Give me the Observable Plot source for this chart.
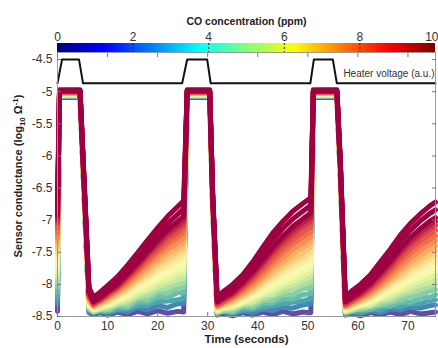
<!DOCTYPE html>
<html><head><meta charset="utf-8">
<script src="https://cdn.jsdelivr.net/npm/d3@7"></script>
<script src="https://cdn.jsdelivr.net/npm/@observablehq/plot@0.6"></script>
<style>
body{margin:0;background:#fff;font-family:"Liberation Sans",Arial,sans-serif;}
#chart svg{display:block}
</style></head><body><div id="chart"></div>
<script>
// ---- data ----
const time = [0, 0.4, 4.5, 5.3, 6.3, 7.2, 8.5, 10, 12, 14, 16, 18, 20, 22, 24, 25.2,
  25.9, 30.4, 31.0, 31.9, 33, 35, 37, 39, 41, 43, 45, 47, 49, 50.6,
  51.1, 55.8, 56.5, 57.5, 58.8, 60.5, 62.5, 64.5, 66.5, 68.5, 70.5, 72.5, 74.5, 75.5];

const lineConc = [0, 1, 1.5, 2, 2.5, 3, 3.5, 4, 4.5, 5, 5.5, 6, 6.5, 7, 7.5, 8, 8.5, 9, 9.5, 10, 10, 10];

const conductance = [
  // 0
  [-8.42, -5.09, -5.09, -6.6, -8.44, -8.47, -8.44, -8.48, -8.43, -8.47, -8.42, -8.46, -8.41, -8.45, -8.42, -8.43,
   -5.09, -5.09, -6.84, -8.48, -8.45, -8.49, -8.44, -8.48, -8.43, -8.47, -8.42, -8.46, -8.43, -8.44,
   -5.09, -5.09, -6.34, -8.48, -8.45, -8.49, -8.44, -8.47, -8.43, -8.47, -8.42, -8.46, -8.44, -8.43],
  // 1
  [-8.3, -5.08, -5.08, -6.58, -8.42, -8.45, -8.42, -8.46, -8.4, -8.43, -8.36, -8.4, -8.33, -8.36, -8.3, -8.3,
   -5.08, -5.08, -6.82, -8.46, -8.43, -8.47, -8.41, -8.44, -8.38, -8.41, -8.35, -8.37, -8.32, -8.3,
   -5.08, -5.08, -6.32, -8.46, -8.44, -8.45, -8.41, -8.44, -8.38, -8.4, -8.35, -8.37, -8.33, -8.32],
  // 1.5
  [-8.22, -5.075, -5.075, -6.57, -8.4, -8.44, -8.4, -8.42, -8.39, -8.38, -8.33, -8.32, -8.27, -8.26, -8.24, -8.22,
   -5.075, -5.075, -6.81, -8.45, -8.41, -8.44, -8.4, -8.39, -8.36, -8.33, -8.3, -8.28, -8.26, -8.22,
   -5.075, -5.075, -6.31, -8.45, -8.42, -8.44, -8.38, -8.4, -8.33, -8.35, -8.3, -8.3, -8.25, -8.24],
  // 2
  [-8.13, -5.07, -5.07, -6.56, -8.39, -8.43, -8.41, -8.42, -8.35, -8.36, -8.27, -8.28, -8.19, -8.2, -8.13, -8.13,
   -5.07, -5.07, -6.8, -8.44, -8.42, -8.43, -8.36, -8.37, -8.3, -8.29, -8.22, -8.23, -8.16, -8.14,
   -5.07, -5.07, -6.3, -8.44, -8.42, -8.4, -8.39, -8.33, -8.34, -8.27, -8.28, -8.21, -8.2, -8.16],
  // 2.5
  [-8.05, -5.065, -5.065, -6.55, -8.38, -8.43, -8.38, -8.41, -8.32, -8.34, -8.22, -8.24, -8.12, -8.14, -8.05, -8.05,
   -5.065, -5.065, -6.79, -8.44, -8.4, -8.42, -8.33, -8.35, -8.25, -8.25, -8.16, -8.16, -8.07, -8.05,
   -5.065, -5.065, -6.29, -8.44, -8.4, -8.39, -8.35, -8.32, -8.28, -8.24, -8.19, -8.16, -8.1, -8.08],
  // 3
  [-7.97, -5.06, -5.06, -6.54, -8.36, -8.42, -8.39, -8.38, -8.31, -8.29, -8.2, -8.17, -8.08, -8.06, -7.99, -7.97,
   -5.06, -5.06, -6.78, -8.43, -8.4, -8.38, -8.32, -8.3, -8.23, -8.18, -8.12, -8.07, -8.01, -7.96,
   -5.06, -5.06, -6.28, -8.43, -8.4, -8.36, -8.34, -8.28, -8.25, -8.18, -8.13, -8.08, -8.03, -8.0],
  // 3.5
  [-7.9, -5.055, -5.055, -6.53, -8.345, -8.41, -8.38, -8.35, -8.3, -8.25, -8.17, -8.11, -8.04, -7.98, -7.92, -7.9,
   -5.055, -5.055, -6.77, -8.42, -8.38, -8.37, -8.3, -8.28, -8.18, -8.15, -8.05, -8.02, -7.93, -7.88,
   -5.055, -5.055, -6.27, -8.42, -8.39, -8.34, -8.33, -8.24, -8.22, -8.12, -8.09, -8.0, -7.97, -7.93],
  // 4
  [-7.82, -5.05, -5.05, -6.52, -8.33, -8.4, -8.36, -8.34, -8.27, -8.23, -8.12, -8.08, -7.97, -7.93, -7.84, -7.82,
   -5.05, -5.05, -6.76, -8.41, -8.37, -8.35, -8.29, -8.24, -8.16, -8.1, -8.01, -7.95, -7.87, -7.8,
   -5.05, -5.05, -6.26, -8.41, -8.37, -8.33, -8.3, -8.22, -8.17, -8.09, -8.02, -7.95, -7.89, -7.85],
  // 4.5
  [-7.75, -5.045, -5.045, -6.51, -8.32, -8.39, -8.35, -8.31, -8.25, -8.18, -8.09, -8.01, -7.93, -7.85, -7.78, -7.75,
   -5.045, -5.045, -6.75, -8.4, -8.36, -8.32, -8.28, -8.19, -8.13, -8.04, -7.96, -7.88, -7.81, -7.73,
   -5.045, -5.045, -6.25, -8.4, -8.36, -8.32, -8.27, -8.2, -8.12, -8.05, -7.95, -7.89, -7.81, -7.78],
  // 5
  [-7.67, -5.04, -5.04, -6.5, -8.3, -8.38, -8.33, -8.3, -8.22, -8.16, -8.04, -7.97, -7.86, -7.79, -7.7, -7.67,
   -5.04, -5.04, -6.74, -8.39, -8.35, -8.31, -8.25, -8.17, -8.09, -8.0, -7.9, -7.82, -7.73, -7.66,
   -5.04, -5.04, -6.24, -8.39, -8.35, -8.3, -8.25, -8.16, -8.09, -7.99, -7.9, -7.82, -7.74, -7.71],
  // 5.5
  [-7.6, -5.035, -5.035, -6.49, -8.29, -8.37, -8.32, -8.28, -8.2, -8.12, -8.0, -7.92, -7.8, -7.73, -7.63, -7.6,
   -5.035, -5.035, -6.73, -8.38, -8.34, -8.3, -8.22, -8.14, -8.05, -7.94, -7.84, -7.75, -7.67, -7.58,
   -5.035, -5.035, -6.23, -8.38, -8.34, -8.29, -8.22, -8.13, -8.05, -7.94, -7.85, -7.75, -7.67, -7.64],
  // 6
  [-7.52, -5.03, -5.03, -6.48, -8.27, -8.36, -8.31, -8.27, -8.17, -8.09, -7.96, -7.87, -7.75, -7.66, -7.56, -7.52,
   -5.03, -5.03, -6.72, -8.37, -8.33, -8.28, -8.2, -8.11, -8.0, -7.89, -7.78, -7.68, -7.6, -7.5,
   -5.03, -5.03, -6.22, -8.37, -8.33, -8.27, -8.2, -8.1, -8.0, -7.9, -7.79, -7.69, -7.6, -7.56],
  // 6.5
  [-7.44, -5.025, -5.025, -6.47, -8.26, -8.35, -8.3, -8.25, -8.15, -8.06, -7.93, -7.82, -7.69, -7.59, -7.49, -7.44,
   -5.025, -5.025, -6.71, -8.36, -8.32, -8.26, -8.18, -8.08, -7.96, -7.83, -7.72, -7.61, -7.52, -7.42,
   -5.025, -5.025, -6.21, -8.36, -8.32, -8.26, -8.18, -8.07, -7.96, -7.85, -7.73, -7.62, -7.53, -7.48],
  // 7
  [-7.36, -5.02, -5.02, -6.46, -8.24, -8.34, -8.29, -8.22, -8.13, -8.02, -7.89, -7.76, -7.63, -7.52, -7.42, -7.36,
   -5.02, -5.02, -6.7, -8.35, -8.31, -8.24, -8.15, -8.04, -7.91, -7.77, -7.65, -7.53, -7.43, -7.34,
   -5.02, -5.02, -6.2, -8.35, -8.3, -8.24, -8.15, -8.04, -7.92, -7.79, -7.66, -7.55, -7.45, -7.4],
  // 7.5
  [-7.28, -5.015, -5.015, -6.45, -8.22, -8.33, -8.28, -8.2, -8.1, -7.99, -7.85, -7.71, -7.57, -7.45, -7.35, -7.28,
   -5.015, -5.015, -6.69, -8.34, -8.3, -8.22, -8.12, -8.0, -7.86, -7.71, -7.58, -7.45, -7.35, -7.26,
   -5.015, -5.015, -6.19, -8.34, -8.29, -8.22, -8.13, -8.0, -7.87, -7.73, -7.59, -7.47, -7.37, -7.32],
  // 8
  [-7.2, -5.01, -5.01, -6.44, -8.2, -8.32, -8.26, -8.19, -8.08, -7.95, -7.8, -7.66, -7.51, -7.38, -7.27, -7.2,
   -5.01, -5.01, -6.68, -8.33, -8.28, -8.2, -8.09, -7.96, -7.81, -7.65, -7.5, -7.37, -7.26, -7.18,
   -5.01, -5.01, -6.18, -8.33, -8.27, -8.2, -8.1, -7.97, -7.82, -7.66, -7.52, -7.39, -7.29, -7.24],
  // 8.5
  [-7.12, -5.005, -5.005, -6.43, -8.18, -8.31, -8.25, -8.17, -8.06, -7.92, -7.77, -7.61, -7.46, -7.32, -7.2, -7.12,
   -5.005, -5.005, -6.67, -8.32, -8.27, -8.18, -8.06, -7.92, -7.76, -7.59, -7.43, -7.3, -7.18, -7.1,
   -5.005, -5.005, -6.17, -8.32, -8.26, -8.18, -8.07, -7.93, -7.77, -7.6, -7.45, -7.32, -7.21, -7.16],
  // 9
  [-7.05, -5.0, -5.0, -6.42, -8.16, -8.3, -8.24, -8.15, -8.04, -7.89, -7.73, -7.56, -7.4, -7.25, -7.13, -7.05,
   -5.0, -5.0, -6.66, -8.3, -8.25, -8.16, -8.03, -7.88, -7.7, -7.52, -7.36, -7.22, -7.1, -7.02,
   -5.0, -5.0, -6.16, -8.3, -8.24, -8.16, -8.04, -7.89, -7.72, -7.54, -7.38, -7.24, -7.13, -7.08],
  // 9.5
  [-7.0, -4.995, -4.995, -6.41, -8.14, -8.28, -8.22, -8.13, -8.02, -7.86, -7.7, -7.52, -7.36, -7.2, -7.08, -7.0,
   -4.995, -4.995, -6.65, -8.28, -8.23, -8.14, -8.0, -7.84, -7.66, -7.47, -7.31, -7.16, -7.04, -6.96,
   -4.995, -4.995, -6.15, -8.28, -8.22, -8.14, -8.01, -7.85, -7.68, -7.49, -7.33, -7.19, -7.07, -7.02],
  // 10
  [-6.94, -4.99, -4.99, -6.4, -8.13, -8.27, -8.2, -8.11, -7.99, -7.83, -7.66, -7.49, -7.31, -7.15, -7.02, -6.94,
   -4.99, -4.99, -6.64, -8.27, -8.21, -8.11, -7.96, -7.8, -7.61, -7.42, -7.25, -7.1, -6.98, -6.89,
   -4.99, -4.99, -6.14, -8.27, -8.2, -8.11, -7.98, -7.81, -7.63, -7.44, -7.27, -7.13, -7.01, -6.96],
  // 10
  [-6.82, -4.98, -4.98, -6.38, -8.1, -8.24, -8.17, -8.07, -7.94, -7.77, -7.59, -7.4, -7.22, -7.05, -6.91, -6.82,
   -4.98, -4.98, -6.62, -8.24, -8.17, -8.06, -7.9, -7.72, -7.52, -7.31, -7.13, -6.98, -6.86, -6.77,
   -4.98, -4.98, -6.12, -8.24, -8.16, -8.06, -7.92, -7.73, -7.54, -7.33, -7.16, -7.01, -6.89, -6.84],
  // 10
  [-6.70, -4.97, -4.97, -6.35, -8.05, -8.2, -8.12, -8.02, -7.88, -7.70, -7.51, -7.31, -7.12, -6.94, -6.79, -6.70,
   -4.97, -4.97, -6.6, -8.2, -8.12, -8.0, -7.85, -7.65, -7.42, -7.2, -7.02, -6.86, -6.74, -6.65,
   -4.97, -4.97, -6.1, -8.2, -8.1, -8.0, -7.85, -7.65, -7.45, -7.23, -7.05, -6.9, -6.77, -6.72]
];

const heaterTime  = [0, 0.9, 4.3, 5.1, 24.9, 25.9, 29.9, 30.6, 50.5, 51.2, 55.0, 55.8, 75.5];
const heaterLevel = [-4.87, -4.5, -4.5, -4.87, -4.87, -4.5, -4.5, -4.87, -4.87, -4.5, -4.5, -4.87, -4.87];

const timeTicks = [0, 10, 20, 30, 40, 50, 60, 70];
const condTicks = [-4.5, -5, -5.5, -6, -6.5, -7, -7.5, -8, -8.5];
const colorbarTicks = [0, 2, 4, 6, 8, 10];
const colorbarTitle = "CO concentration (ppm)";
const xTitle = "Time (seconds)";
const heaterLabel = "Heater voltage (a.u.)";

// ---- build ----
const rows = [];
conductance.forEach((vals, i) => vals.forEach((v, j) => rows.push({id: i, conc: lineConc[i], t: time[j], v})));
const heater = heaterTime.map((t, i) => ({t, v: heaterLevel[i]}));

const jet = d3.piecewise(d3.interpolateRgb, ["#00007f","#0000ff","#007fff","#00ffff","#7fff7f","#ffff00","#ff7f00","#ff0000","#7f0000"]);
const steps = d3.range(0, 10, 0.05);
const font = "'Liberation Sans', Arial, sans-serif";

const cbar = Plot.plot({
  width: 438, height: 52,
  marginLeft: 57, marginRight: 3, marginTop: 43, marginBottom: 0,
  style: {fontFamily: font, fontSize: "12px", color: "#333", background: "#fff"},
  x: {domain: [0, 10]},
  y: {domain: [0, 1], axis: null},
  color: {type: "linear", domain: [0, 10], interpolate: jet},
  marks: [
    Plot.rect(steps, {x1: d => d, x2: d => d + 0.06, y1: 0, y2: 1, fill: d => d + 0.025, shapeRendering: "crispEdges"}),
    Plot.ruleX([2, 4, 6, 8], {stroke: "#222", strokeDasharray: "2,2"}),
    Plot.axisX(colorbarTicks.slice(0, -1), {anchor: "top", tickSize: 0, tickPadding: 3, label: null}),
    Plot.axisX(colorbarTicks.slice(-1), {anchor: "top", tickSize: 0, tickPadding: 3, label: null, textAnchor: "end", dx: 3}),
    Plot.text([colorbarTitle], {frameAnchor: "top", dy: -26, fontWeight: "bold", fontSize: 10.5, fill: "#222"})
  ]
});

const main = Plot.plot({
  width: 438, height: 296,
  marginLeft: 57, marginRight: 3, marginTop: 0, marginBottom: 32,
  style: {fontFamily: font, fontSize: "12px", color: "#333", background: "#fff"},
  x: {domain: [0, 75.5]},
  y: {domain: [-8.5, -4.39]},
  color: {type: "linear", domain: [0, 10], scheme: "spectral", reverse: true},
  marks: [
    Plot.line(rows, {x: "t", y: "v", z: "id", stroke: "conc", strokeWidth: 5, strokeLinejoin: "round"}),
    Plot.line(heater, {x: "t", y: "v", stroke: "#111", strokeWidth: 2}),
    Plot.text([heaterLabel], {x: 57.1, y: -4.715, textAnchor: "start", fontSize: 10, fill: "#333"}),
    Plot.frame({stroke: "#999"}),
    Plot.axisX(timeTicks, {anchor: "bottom", tickSize: 0, tickPadding: 5, label: null}),
    Plot.axisX(timeTicks, {anchor: "bottom", tickSize: -4, tickFormat: () => "", label: null, stroke: "#777"}),
    Plot.axisX(timeTicks, {anchor: "top", tickSize: -4, tickFormat: () => "", label: null, stroke: "#777"}),
    Plot.axisY(condTicks, {anchor: "left", tickSize: 0, tickPadding: 5, tickFormat: d => String(d), label: null}),
    Plot.axisY(condTicks, {anchor: "left", tickSize: -4, tickFormat: () => "", label: null, stroke: "#777"}),
    Plot.axisY(condTicks, {anchor: "right", tickSize: -4, tickFormat: () => "", label: null, stroke: "#777"}),
    Plot.text([xTitle], {frameAnchor: "bottom", dy: 26, fontWeight: "bold", fontSize: 11.5, fill: "#222"})
  ]
});

const yl = d3.select(main).append("text")
  .attr("transform", "translate(22,124) rotate(-90)")
  .attr("text-anchor", "middle").attr("font-weight", "bold")
  .attr("font-size", 11).attr("fill", "#222");
yl.append("tspan").text("Sensor conductance (log");
yl.append("tspan").attr("font-size", 8).attr("dy", 3).text("10");
yl.append("tspan").attr("dy", -3).text(" \u03A9");
yl.append("tspan").attr("font-size", 8).attr("dy", -4).text("-1");
yl.append("tspan").attr("dy", 4).text(")");

document.getElementById("chart").append(cbar, main);
</script></body></html>
